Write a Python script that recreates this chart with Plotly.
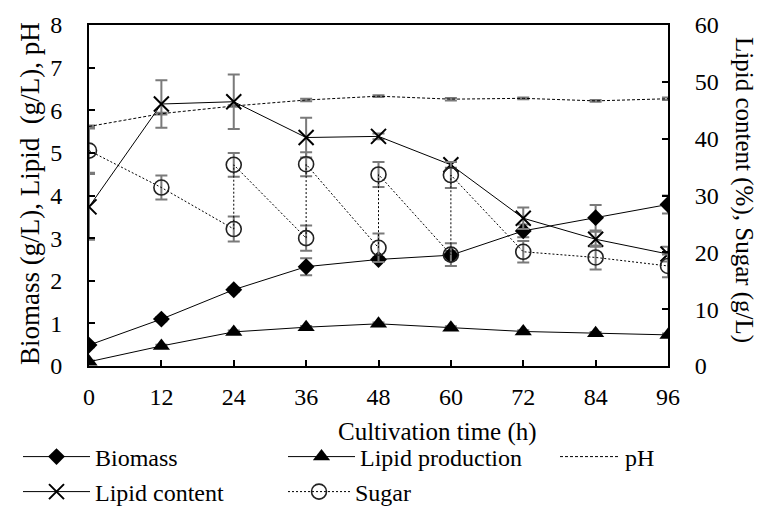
import plotly.graph_objects as go

# ---------------- data ----------------
time_h = [0, 12, 24, 36, 48, 60, 72, 84, 96]
x_ticks = [0, 12, 24, 36, 48, 60, 72, 84, 96]

biomass = [0.49, 1.10, 1.79, 2.33, 2.50, 2.60, 3.17, 3.48, 3.79]
biomass_err = [0.05, 0.05, 0.05, 0.20, 0.05, 0.10, 0.15, 0.30, 0.21]

lipid_prod = [0.10, 0.47, 0.80, 0.91, 0.99, 0.90, 0.81, 0.77, 0.73]
lipid_prod_err = [0.03, 0.03, 0.03, 0.03, 0.03, 0.03, 0.03, 0.03, 0.03]

ph = [5.62, 5.92, 6.10, 6.24, 6.33, 6.26, 6.28, 6.22, 6.27]
ph_err = [0.02, 0.02, 0.02, 0.03, 0.02, 0.03, 0.02, 0.02, 0.03]

lipid_content = [28.0, 46.1, 46.5, 40.2, 40.4, 35.4, 26.0, 22.3, 19.7]
lipid_content_err = [5.8, 4.2, 4.8, 3.5, 0.5, 0.5, 1.9, 1.3, 1.3]

# sugar feeding: duplicated times = before / after feeding
sugar_time = [0, 12, 24, 24, 36, 36, 48, 48, 60, 60, 72, 84, 96]
sugar = [37.9, 31.4, 24.1, 35.4, 22.5, 35.5, 20.8, 33.7, 19.6, 33.6, 20.1, 19.1, 17.6]
sugar_err = [3.9, 2.1, 2.2, 2.1, 2.2, 2.1, 2.5, 2.2, 2.0, 2.3, 1.9, 2.1, 2.0]

y_left_title = "Biomass (g/L), Lipid\u00a0 (g/L), pH"
y_right_title = "Lipid content (%), Sugar (g/L)"
x_title = "Cultivation time (h)"

# ---------------- style ----------------
FONT = "Liberation Serif, Times New Roman, serif"
ERR_COLOR = "#7a7a7a"
W, H = 760, 509
L, R, T, B = 89, 92, 25, 143
PW, PH = W - L - R, H - T - B


def px_x(p):
    return (p - L) / PW


def px_y(p):
    return (H - B - p) / PH


def err(vals):
    return dict(type="data", array=vals, visible=True, color=ERR_COLOR,
                thickness=2, width=6)


fig = go.Figure()

fig.add_trace(go.Scatter(
    x=time_h, y=biomass, name="Biomass", mode="lines+markers",
    line=dict(color="black", width=1),
    marker=dict(symbol="diamond", size=13, color="black"),
    error_y=err(biomass_err), legend="legend"))

fig.add_trace(go.Scatter(
    x=time_h, y=lipid_prod, name="Lipid production", mode="lines+markers",
    line=dict(color="black", width=1),
    marker=dict(symbol="triangle-up", size=15, color="black"),
    error_y=err(lipid_prod_err), legend="legend2"))

fig.add_trace(go.Scatter(
    x=time_h, y=ph, name="pH", mode="lines",
    line=dict(color="black", width=1, dash="3px,2px"),
    error_y=err(ph_err), legend="legend3"))

fig.add_trace(go.Scatter(
    x=time_h, y=lipid_content, name="Lipid content", mode="lines+markers",
    yaxis="y2",
    line=dict(color="black", width=1),
    marker=dict(symbol="x-thin-open", size=15, color="black",
                line=dict(color="black", width=2)),
    error_y=err(lipid_content_err), legend="legend4"))

fig.add_trace(go.Scatter(
    x=sugar_time, y=sugar, name="Sugar", mode="lines+markers",
    yaxis="y2",
    line=dict(color="black", width=1, dash="2px,2px"),
    marker=dict(symbol="circle-open", size=15, color="#222222",
                line=dict(color="#222222", width=1.6)),
    error_y=err(sugar_err), legend="legend5"))

axis_common = dict(showline=True, linecolor="black", linewidth=2,
                   ticks="inside", ticklen=6, tickwidth=2, tickcolor="black",
                   showgrid=False, zeroline=False,
                   tickfont=dict(family=FONT, size=24, color="black"))

fig.update_layout(
    width=W, height=H,
    margin=dict(l=L, r=R, t=T, b=B, autoexpand=False),
    paper_bgcolor="white", plot_bgcolor="white",
    font=dict(family=FONT, size=24, color="black"),
    xaxis=dict(range=[0, 96], tickvals=x_ticks, mirror=True,
               ticklabelstandoff=8, **axis_common),
    yaxis=dict(range=[0, 8], dtick=1, ticklabelstandoff=20, **axis_common),
    yaxis2=dict(range=[0, 60], dtick=10, overlaying="y", side="right",
                ticklabelstandoff=20, **axis_common),
    showlegend=True,
)

legend_pos = {
    "legend": (18, 457, 67), "legend2": (283, 457, 67), "legend3": (555, 457, 60),
    "legend4": (18, 492, 67), "legend5": (283, 492, 62),
}
for key, (lx, ly, iw) in legend_pos.items():
    fig.update_layout({key: dict(x=px_x(lx), y=px_y(ly), xanchor="left",
                                 yanchor="middle", bgcolor="rgba(0,0,0,0)",
                                 itemwidth=iw,
                                 font=dict(family=FONT, size=24, color="black"))})

fig.add_annotation(text=y_left_title, xref="paper", yref="paper",
                   x=px_x(30), y=px_y(194), textangle=-90, showarrow=False,
                   xanchor="center", yanchor="middle",
                   font=dict(family=FONT, size=27, color="black"))
fig.add_annotation(text=y_right_title, xref="paper", yref="paper",
                   x=px_x(744), y=px_y(190), textangle=90, showarrow=False,
                   xanchor="center", yanchor="middle",
                   font=dict(family=FONT, size=25, color="black"))
fig.add_annotation(text=x_title, xref="paper", yref="paper",
                   x=px_x(437), y=px_y(432), showarrow=False,
                   xanchor="center", yanchor="middle",
                   font=dict(family=FONT, size=25, color="black"))

fig.write_html("out.html")
